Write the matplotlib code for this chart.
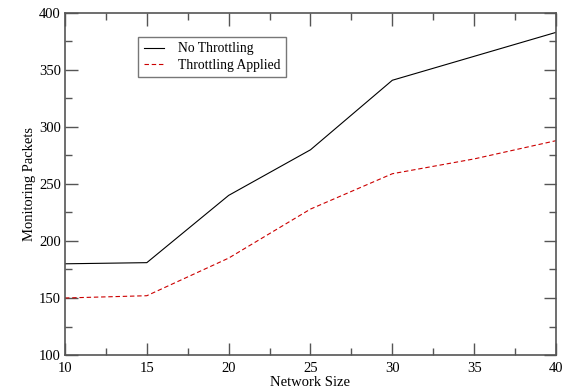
import matplotlib
matplotlib.use("Agg")
import matplotlib.pyplot as plt
from matplotlib.ticker import MultipleLocator

network_size = [10, 15, 20, 25, 30, 35, 40]
no_throttling = [180, 181, 240, 280, 341, 362, 383]
throttling_applied = [150, 152, 185, 228, 259, 272, 288]

plt.rcParams['font.family'] = ['Liberation Serif', 'DejaVu Serif']

fig = plt.figure(figsize=(5.67, 3.89), dpi=100)
ax = fig.add_axes([0.1146, 0.0874, 0.866, 0.8792])

ax.plot(network_size, no_throttling, color='black', lw=0.8, label='No Throttling')
ax.plot(network_size, throttling_applied, color='#cc0000', lw=0.8, ls=(0, (4, 2.5)), label='Throttling Applied')

ax.set_xlim(10, 40)
ax.set_ylim(100, 400)
ax.xaxis.set_major_locator(MultipleLocator(5))
ax.xaxis.set_minor_locator(MultipleLocator(2.5))
ax.yaxis.set_major_locator(MultipleLocator(50))
ax.yaxis.set_minor_locator(MultipleLocator(25))
ax.tick_params(which='both', direction='in', top=True, right=True, color='#555555', width=1, labelsize=10.5)
ax.tick_params(axis='x', pad=5)
ax.tick_params(axis='y', pad=3)
ax.tick_params(which='major', length=9)
ax.tick_params(which='minor', length=5)
for s in ax.spines.values():
    s.set_color('#555555')
    s.set_linewidth(1.2)

ax.set_xlabel('Network Size', fontsize=10.5, labelpad=1)
ax.set_ylabel('Monitoring Packets', fontsize=10.5, labelpad=2)

leg = ax.legend(loc='upper left', bbox_to_anchor=(0.149, 0.93), borderaxespad=0, fontsize=9.8, frameon=True,
                fancybox=False, handlelength=1.5, borderpad=0.4, labelspacing=0.25, handletextpad=1.0)
leg.get_frame().set_edgecolor('#555555')
leg.get_frame().set_linewidth(1.0)

fig.savefig('out.png', dpi=100)
